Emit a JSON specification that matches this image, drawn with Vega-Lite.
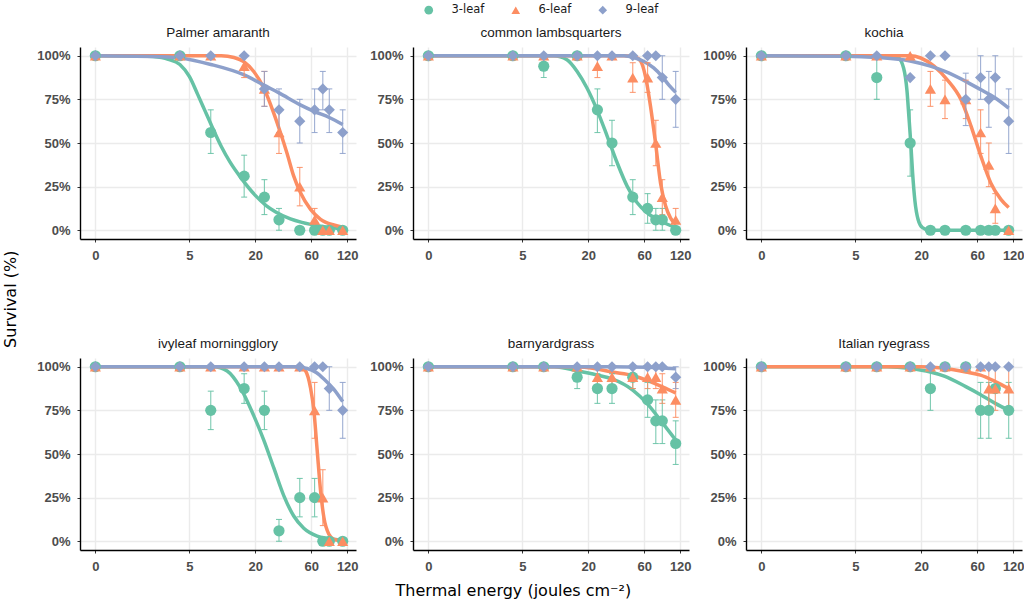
{
  "$schema": "https://vega.github.io/schema/vega-lite/v6.json",
  "description": "Survival of six weed species by leaf stage against thermal energy",
  "padding": {"left": 2, "top": 4, "right": 0, "bottom": 0},
  "background": "white",
  "title": {
    "text": "Thermal energy (joules cm⁻²)",
    "orient": "bottom",
    "anchor": "middle",
    "font": "DejaVu Sans",
    "fontSize": 16,
    "fontWeight": "normal",
    "color": "#000000",
    "offset": 10
  },
  "vconcat": [
    {
      "title": {
        "text": "Survival (%)",
        "orient": "left",
        "anchor": "middle",
        "font": "DejaVu Sans",
        "fontSize": 16,
        "fontWeight": "normal",
        "color": "#000000",
        "offset": 18
      },
      "data": {
        "values": [
          {"w": "Palmer amaranth", "s": "3-leaf", "x": 0, "y": 1},
          {"w": "Palmer amaranth", "s": "3-leaf", "x": 4, "y": 1},
          {"w": "Palmer amaranth", "s": "3-leaf", "x": 8, "y": 0.56, "lo": 0.44, "hi": 0.69},
          {"w": "Palmer amaranth", "s": "3-leaf", "x": 16, "y": 0.31, "lo": 0.19, "hi": 0.43},
          {"w": "Palmer amaranth", "s": "3-leaf", "x": 24, "y": 0.19, "lo": 0.09, "hi": 0.29},
          {"w": "Palmer amaranth", "s": "3-leaf", "x": 32, "y": 0.06, "lo": 0, "hi": 0.125},
          {"w": "Palmer amaranth", "s": "3-leaf", "x": 48, "y": 0},
          {"w": "Palmer amaranth", "s": "3-leaf", "x": 64, "y": 0},
          {"w": "Palmer amaranth", "s": "3-leaf", "x": 75, "y": 0},
          {"w": "Palmer amaranth", "s": "3-leaf", "x": 85, "y": 0},
          {"w": "Palmer amaranth", "s": "3-leaf", "x": 110, "y": 0},
          {"w": "Palmer amaranth", "s": "6-leaf", "x": 0, "y": 1},
          {"w": "Palmer amaranth", "s": "6-leaf", "x": 4, "y": 1},
          {"w": "Palmer amaranth", "s": "6-leaf", "x": 8, "y": 1},
          {"w": "Palmer amaranth", "s": "6-leaf", "x": 16, "y": 0.94, "lo": 0.875, "hi": 1},
          {"w": "Palmer amaranth", "s": "6-leaf", "x": 24, "y": 0.81, "lo": 0.71, "hi": 0.91},
          {"w": "Palmer amaranth", "s": "6-leaf", "x": 32, "y": 0.56, "lo": 0.44, "hi": 0.69},
          {"w": "Palmer amaranth", "s": "6-leaf", "x": 48, "y": 0.25, "lo": 0.14, "hi": 0.36},
          {"w": "Palmer amaranth", "s": "6-leaf", "x": 64, "y": 0.06, "lo": 0, "hi": 0.125},
          {"w": "Palmer amaranth", "s": "6-leaf", "x": 75, "y": 0},
          {"w": "Palmer amaranth", "s": "6-leaf", "x": 85, "y": 0},
          {"w": "Palmer amaranth", "s": "6-leaf", "x": 110, "y": 0},
          {"w": "Palmer amaranth", "s": "9-leaf", "x": 0, "y": 1},
          {"w": "Palmer amaranth", "s": "9-leaf", "x": 4, "y": 1},
          {"w": "Palmer amaranth", "s": "9-leaf", "x": 8, "y": 1},
          {"w": "Palmer amaranth", "s": "9-leaf", "x": 16, "y": 1},
          {"w": "Palmer amaranth", "s": "9-leaf", "x": 24, "y": 0.81, "lo": 0.71, "hi": 0.91},
          {"w": "Palmer amaranth", "s": "9-leaf", "x": 32, "y": 0.69, "lo": 0.56, "hi": 0.81},
          {"w": "Palmer amaranth", "s": "9-leaf", "x": 48, "y": 0.625, "lo": 0.5, "hi": 0.75},
          {"w": "Palmer amaranth", "s": "9-leaf", "x": 64, "y": 0.69, "lo": 0.56, "hi": 0.81},
          {"w": "Palmer amaranth", "s": "9-leaf", "x": 75, "y": 0.81, "lo": 0.69, "hi": 0.91},
          {"w": "Palmer amaranth", "s": "9-leaf", "x": 85, "y": 0.69, "lo": 0.56, "hi": 0.81},
          {"w": "Palmer amaranth", "s": "9-leaf", "x": 110, "y": 0.56, "lo": 0.44, "hi": 0.69},

          {"w": "common lambsquarters", "s": "3-leaf", "x": 0, "y": 1},
          {"w": "common lambsquarters", "s": "3-leaf", "x": 4, "y": 1},
          {"w": "common lambsquarters", "s": "3-leaf", "x": 8, "y": 0.94, "lo": 0.875, "hi": 1},
          {"w": "common lambsquarters", "s": "3-leaf", "x": 16, "y": 1},
          {"w": "common lambsquarters", "s": "3-leaf", "x": 24, "y": 0.69, "lo": 0.56, "hi": 0.81},
          {"w": "common lambsquarters", "s": "3-leaf", "x": 32, "y": 0.5, "lo": 0.37, "hi": 0.63},
          {"w": "common lambsquarters", "s": "3-leaf", "x": 48, "y": 0.19, "lo": 0.09, "hi": 0.29},
          {"w": "common lambsquarters", "s": "3-leaf", "x": 64, "y": 0.125, "lo": 0.04, "hi": 0.21},
          {"w": "common lambsquarters", "s": "3-leaf", "x": 75, "y": 0.06, "lo": 0, "hi": 0.125},
          {"w": "common lambsquarters", "s": "3-leaf", "x": 85, "y": 0.06, "lo": 0, "hi": 0.125},
          {"w": "common lambsquarters", "s": "3-leaf", "x": 110, "y": 0},
          {"w": "common lambsquarters", "s": "6-leaf", "x": 0, "y": 1},
          {"w": "common lambsquarters", "s": "6-leaf", "x": 4, "y": 1},
          {"w": "common lambsquarters", "s": "6-leaf", "x": 8, "y": 1},
          {"w": "common lambsquarters", "s": "6-leaf", "x": 16, "y": 1},
          {"w": "common lambsquarters", "s": "6-leaf", "x": 24, "y": 0.94, "lo": 0.875, "hi": 1},
          {"w": "common lambsquarters", "s": "6-leaf", "x": 32, "y": 1},
          {"w": "common lambsquarters", "s": "6-leaf", "x": 48, "y": 0.875, "lo": 0.79, "hi": 0.96},
          {"w": "common lambsquarters", "s": "6-leaf", "x": 64, "y": 0.875, "lo": 0.79, "hi": 0.96},
          {"w": "common lambsquarters", "s": "6-leaf", "x": 75, "y": 0.5, "lo": 0.37, "hi": 0.63},
          {"w": "common lambsquarters", "s": "6-leaf", "x": 85, "y": 0.19, "lo": 0.09, "hi": 0.29},
          {"w": "common lambsquarters", "s": "6-leaf", "x": 110, "y": 0.06, "lo": 0, "hi": 0.125},
          {"w": "common lambsquarters", "s": "9-leaf", "x": 0, "y": 1},
          {"w": "common lambsquarters", "s": "9-leaf", "x": 4, "y": 1},
          {"w": "common lambsquarters", "s": "9-leaf", "x": 8, "y": 1},
          {"w": "common lambsquarters", "s": "9-leaf", "x": 16, "y": 1},
          {"w": "common lambsquarters", "s": "9-leaf", "x": 24, "y": 1},
          {"w": "common lambsquarters", "s": "9-leaf", "x": 32, "y": 1},
          {"w": "common lambsquarters", "s": "9-leaf", "x": 48, "y": 1},
          {"w": "common lambsquarters", "s": "9-leaf", "x": 64, "y": 1},
          {"w": "common lambsquarters", "s": "9-leaf", "x": 75, "y": 1},
          {"w": "common lambsquarters", "s": "9-leaf", "x": 85, "y": 0.875, "lo": 0.75, "hi": 1},
          {"w": "common lambsquarters", "s": "9-leaf", "x": 110, "y": 0.75, "lo": 0.59, "hi": 0.91},

          {"w": "kochia", "s": "3-leaf", "x": 0, "y": 1},
          {"w": "kochia", "s": "3-leaf", "x": 4, "y": 1},
          {"w": "kochia", "s": "3-leaf", "x": 8, "y": 0.875, "lo": 0.75, "hi": 1},
          {"w": "kochia", "s": "3-leaf", "x": 16, "y": 0.5, "lo": 0.31, "hi": 0.69},
          {"w": "kochia", "s": "3-leaf", "x": 24, "y": 0},
          {"w": "kochia", "s": "3-leaf", "x": 32, "y": 0},
          {"w": "kochia", "s": "3-leaf", "x": 48, "y": 0},
          {"w": "kochia", "s": "3-leaf", "x": 64, "y": 0},
          {"w": "kochia", "s": "3-leaf", "x": 75, "y": 0},
          {"w": "kochia", "s": "3-leaf", "x": 85, "y": 0},
          {"w": "kochia", "s": "3-leaf", "x": 110, "y": 0},
          {"w": "kochia", "s": "6-leaf", "x": 0, "y": 1},
          {"w": "kochia", "s": "6-leaf", "x": 4, "y": 1},
          {"w": "kochia", "s": "6-leaf", "x": 8, "y": 1},
          {"w": "kochia", "s": "6-leaf", "x": 16, "y": 1},
          {"w": "kochia", "s": "6-leaf", "x": 24, "y": 0.81, "lo": 0.71, "hi": 0.91},
          {"w": "kochia", "s": "6-leaf", "x": 32, "y": 0.75, "lo": 0.64, "hi": 0.86},
          {"w": "kochia", "s": "6-leaf", "x": 48, "y": 0.75, "lo": 0.64, "hi": 0.86},
          {"w": "kochia", "s": "6-leaf", "x": 64, "y": 0.56, "lo": 0.44, "hi": 0.69},
          {"w": "kochia", "s": "6-leaf", "x": 75, "y": 0.375, "lo": 0.25, "hi": 0.5},
          {"w": "kochia", "s": "6-leaf", "x": 85, "y": 0.125, "lo": 0.04, "hi": 0.21},
          {"w": "kochia", "s": "6-leaf", "x": 110, "y": 0},
          {"w": "kochia", "s": "9-leaf", "x": 0, "y": 1},
          {"w": "kochia", "s": "9-leaf", "x": 4, "y": 1},
          {"w": "kochia", "s": "9-leaf", "x": 8, "y": 1},
          {"w": "kochia", "s": "9-leaf", "x": 16, "y": 0.875},
          {"w": "kochia", "s": "9-leaf", "x": 24, "y": 1},
          {"w": "kochia", "s": "9-leaf", "x": 32, "y": 1},
          {"w": "kochia", "s": "9-leaf", "x": 48, "y": 0.75, "lo": 0.6, "hi": 0.9},
          {"w": "kochia", "s": "9-leaf", "x": 64, "y": 0.875, "lo": 0.75, "hi": 1},
          {"w": "kochia", "s": "9-leaf", "x": 75, "y": 0.75, "lo": 0.59, "hi": 0.91},
          {"w": "kochia", "s": "9-leaf", "x": 85, "y": 0.875, "lo": 0.75, "hi": 1},
          {"w": "kochia", "s": "9-leaf", "x": 110, "y": 0.625, "lo": 0.44, "hi": 0.81},

          {"w": "ivyleaf morningglory", "s": "3-leaf", "x": 0, "y": 1},
          {"w": "ivyleaf morningglory", "s": "3-leaf", "x": 4, "y": 1},
          {"w": "ivyleaf morningglory", "s": "3-leaf", "x": 8, "y": 0.75, "lo": 0.64, "hi": 0.86},
          {"w": "ivyleaf morningglory", "s": "3-leaf", "x": 16, "y": 0.875, "lo": 0.79, "hi": 0.96},
          {"w": "ivyleaf morningglory", "s": "3-leaf", "x": 24, "y": 0.75, "lo": 0.64, "hi": 0.86},
          {"w": "ivyleaf morningglory", "s": "3-leaf", "x": 32, "y": 0.06, "lo": 0, "hi": 0.125},
          {"w": "ivyleaf morningglory", "s": "3-leaf", "x": 48, "y": 0.25, "lo": 0.14, "hi": 0.36},
          {"w": "ivyleaf morningglory", "s": "3-leaf", "x": 64, "y": 0.25, "lo": 0.14, "hi": 0.36},
          {"w": "ivyleaf morningglory", "s": "3-leaf", "x": 75, "y": 0},
          {"w": "ivyleaf morningglory", "s": "3-leaf", "x": 85, "y": 0},
          {"w": "ivyleaf morningglory", "s": "3-leaf", "x": 110, "y": 0},
          {"w": "ivyleaf morningglory", "s": "6-leaf", "x": 0, "y": 1},
          {"w": "ivyleaf morningglory", "s": "6-leaf", "x": 4, "y": 1},
          {"w": "ivyleaf morningglory", "s": "6-leaf", "x": 8, "y": 1},
          {"w": "ivyleaf morningglory", "s": "6-leaf", "x": 16, "y": 1},
          {"w": "ivyleaf morningglory", "s": "6-leaf", "x": 24, "y": 1},
          {"w": "ivyleaf morningglory", "s": "6-leaf", "x": 32, "y": 1},
          {"w": "ivyleaf morningglory", "s": "6-leaf", "x": 48, "y": 1},
          {"w": "ivyleaf morningglory", "s": "6-leaf", "x": 64, "y": 0.75, "lo": 0.59, "hi": 0.91},
          {"w": "ivyleaf morningglory", "s": "6-leaf", "x": 75, "y": 0.25, "lo": 0.09, "hi": 0.41},
          {"w": "ivyleaf morningglory", "s": "6-leaf", "x": 85, "y": 0},
          {"w": "ivyleaf morningglory", "s": "6-leaf", "x": 110, "y": 0},
          {"w": "ivyleaf morningglory", "s": "9-leaf", "x": 0, "y": 1},
          {"w": "ivyleaf morningglory", "s": "9-leaf", "x": 4, "y": 1},
          {"w": "ivyleaf morningglory", "s": "9-leaf", "x": 8, "y": 1},
          {"w": "ivyleaf morningglory", "s": "9-leaf", "x": 16, "y": 1},
          {"w": "ivyleaf morningglory", "s": "9-leaf", "x": 24, "y": 1},
          {"w": "ivyleaf morningglory", "s": "9-leaf", "x": 32, "y": 1},
          {"w": "ivyleaf morningglory", "s": "9-leaf", "x": 48, "y": 1},
          {"w": "ivyleaf morningglory", "s": "9-leaf", "x": 64, "y": 1},
          {"w": "ivyleaf morningglory", "s": "9-leaf", "x": 75, "y": 1},
          {"w": "ivyleaf morningglory", "s": "9-leaf", "x": 85, "y": 0.875, "lo": 0.75, "hi": 1},
          {"w": "ivyleaf morningglory", "s": "9-leaf", "x": 110, "y": 0.75, "lo": 0.59, "hi": 0.91},

          {"w": "barnyardgrass", "s": "3-leaf", "x": 0, "y": 1},
          {"w": "barnyardgrass", "s": "3-leaf", "x": 4, "y": 1},
          {"w": "barnyardgrass", "s": "3-leaf", "x": 8, "y": 1},
          {"w": "barnyardgrass", "s": "3-leaf", "x": 16, "y": 0.94, "lo": 0.875, "hi": 1},
          {"w": "barnyardgrass", "s": "3-leaf", "x": 24, "y": 0.875, "lo": 0.79, "hi": 0.96},
          {"w": "barnyardgrass", "s": "3-leaf", "x": 32, "y": 0.875, "lo": 0.79, "hi": 0.96},
          {"w": "barnyardgrass", "s": "3-leaf", "x": 48, "y": 0.94, "lo": 0.875, "hi": 1},
          {"w": "barnyardgrass", "s": "3-leaf", "x": 64, "y": 0.81, "lo": 0.71, "hi": 0.91},
          {"w": "barnyardgrass", "s": "3-leaf", "x": 75, "y": 0.69, "lo": 0.56, "hi": 0.81},
          {"w": "barnyardgrass", "s": "3-leaf", "x": 85, "y": 0.69, "lo": 0.56, "hi": 0.81},
          {"w": "barnyardgrass", "s": "3-leaf", "x": 110, "y": 0.56, "lo": 0.44, "hi": 0.69},
          {"w": "barnyardgrass", "s": "6-leaf", "x": 0, "y": 1},
          {"w": "barnyardgrass", "s": "6-leaf", "x": 4, "y": 1},
          {"w": "barnyardgrass", "s": "6-leaf", "x": 8, "y": 1},
          {"w": "barnyardgrass", "s": "6-leaf", "x": 16, "y": 1},
          {"w": "barnyardgrass", "s": "6-leaf", "x": 24, "y": 0.94, "lo": 0.875, "hi": 1},
          {"w": "barnyardgrass", "s": "6-leaf", "x": 32, "y": 0.94, "lo": 0.875, "hi": 1},
          {"w": "barnyardgrass", "s": "6-leaf", "x": 48, "y": 0.94, "lo": 0.875, "hi": 1},
          {"w": "barnyardgrass", "s": "6-leaf", "x": 64, "y": 0.94, "lo": 0.875, "hi": 1},
          {"w": "barnyardgrass", "s": "6-leaf", "x": 75, "y": 0.94, "lo": 0.875, "hi": 1},
          {"w": "barnyardgrass", "s": "6-leaf", "x": 85, "y": 0.875, "lo": 0.79, "hi": 0.96},
          {"w": "barnyardgrass", "s": "6-leaf", "x": 110, "y": 0.81, "lo": 0.71, "hi": 0.91},
          {"w": "barnyardgrass", "s": "9-leaf", "x": 0, "y": 1},
          {"w": "barnyardgrass", "s": "9-leaf", "x": 4, "y": 1},
          {"w": "barnyardgrass", "s": "9-leaf", "x": 8, "y": 1},
          {"w": "barnyardgrass", "s": "9-leaf", "x": 16, "y": 1},
          {"w": "barnyardgrass", "s": "9-leaf", "x": 24, "y": 1},
          {"w": "barnyardgrass", "s": "9-leaf", "x": 32, "y": 1},
          {"w": "barnyardgrass", "s": "9-leaf", "x": 48, "y": 1},
          {"w": "barnyardgrass", "s": "9-leaf", "x": 64, "y": 1},
          {"w": "barnyardgrass", "s": "9-leaf", "x": 75, "y": 1},
          {"w": "barnyardgrass", "s": "9-leaf", "x": 85, "y": 1},
          {"w": "barnyardgrass", "s": "9-leaf", "x": 110, "y": 0.94, "lo": 0.875, "hi": 1},

          {"w": "Italian ryegrass", "s": "3-leaf", "x": 0, "y": 1},
          {"w": "Italian ryegrass", "s": "3-leaf", "x": 4, "y": 1},
          {"w": "Italian ryegrass", "s": "3-leaf", "x": 8, "y": 1},
          {"w": "Italian ryegrass", "s": "3-leaf", "x": 16, "y": 1},
          {"w": "Italian ryegrass", "s": "3-leaf", "x": 24, "y": 0.875, "lo": 0.75, "hi": 1},
          {"w": "Italian ryegrass", "s": "3-leaf", "x": 32, "y": 1},
          {"w": "Italian ryegrass", "s": "3-leaf", "x": 48, "y": 1},
          {"w": "Italian ryegrass", "s": "3-leaf", "x": 64, "y": 0.75, "lo": 0.59, "hi": 0.91},
          {"w": "Italian ryegrass", "s": "3-leaf", "x": 75, "y": 0.75, "lo": 0.59, "hi": 0.91},
          {"w": "Italian ryegrass", "s": "3-leaf", "x": 85, "y": 0.875},
          {"w": "Italian ryegrass", "s": "3-leaf", "x": 110, "y": 0.75, "lo": 0.59, "hi": 0.91},
          {"w": "Italian ryegrass", "s": "6-leaf", "x": 0, "y": 1},
          {"w": "Italian ryegrass", "s": "6-leaf", "x": 4, "y": 1},
          {"w": "Italian ryegrass", "s": "6-leaf", "x": 8, "y": 1},
          {"w": "Italian ryegrass", "s": "6-leaf", "x": 16, "y": 1},
          {"w": "Italian ryegrass", "s": "6-leaf", "x": 24, "y": 1},
          {"w": "Italian ryegrass", "s": "6-leaf", "x": 32, "y": 1},
          {"w": "Italian ryegrass", "s": "6-leaf", "x": 48, "y": 1},
          {"w": "Italian ryegrass", "s": "6-leaf", "x": 64, "y": 1},
          {"w": "Italian ryegrass", "s": "6-leaf", "x": 75, "y": 0.875, "lo": 0.75, "hi": 1},
          {"w": "Italian ryegrass", "s": "6-leaf", "x": 85, "y": 0.875, "lo": 0.75, "hi": 1},
          {"w": "Italian ryegrass", "s": "6-leaf", "x": 110, "y": 0.875, "lo": 0.75, "hi": 1},
          {"w": "Italian ryegrass", "s": "9-leaf", "x": 0, "y": 1},
          {"w": "Italian ryegrass", "s": "9-leaf", "x": 4, "y": 1},
          {"w": "Italian ryegrass", "s": "9-leaf", "x": 8, "y": 1},
          {"w": "Italian ryegrass", "s": "9-leaf", "x": 16, "y": 1},
          {"w": "Italian ryegrass", "s": "9-leaf", "x": 24, "y": 1},
          {"w": "Italian ryegrass", "s": "9-leaf", "x": 32, "y": 1},
          {"w": "Italian ryegrass", "s": "9-leaf", "x": 48, "y": 1},
          {"w": "Italian ryegrass", "s": "9-leaf", "x": 64, "y": 1},
          {"w": "Italian ryegrass", "s": "9-leaf", "x": 75, "y": 1},
          {"w": "Italian ryegrass", "s": "9-leaf", "x": 85, "y": 1},
          {"w": "Italian ryegrass", "s": "9-leaf", "x": 110, "y": 1},

          {"w": "Palmer amaranth", "s": "3-leaf", "x": 0, "f": 1},
          {"w": "Palmer amaranth", "s": "3-leaf", "x": 1, "f": 1},
          {"w": "Palmer amaranth", "s": "3-leaf", "x": 2, "f": 0.995},
          {"w": "Palmer amaranth", "s": "3-leaf", "x": 3, "f": 0.98},
          {"w": "Palmer amaranth", "s": "3-leaf", "x": 4, "f": 0.95},
          {"w": "Palmer amaranth", "s": "3-leaf", "x": 5, "f": 0.88},
          {"w": "Palmer amaranth", "s": "3-leaf", "x": 6, "f": 0.78},
          {"w": "Palmer amaranth", "s": "3-leaf", "x": 7, "f": 0.69},
          {"w": "Palmer amaranth", "s": "3-leaf", "x": 8, "f": 0.61},
          {"w": "Palmer amaranth", "s": "3-leaf", "x": 10, "f": 0.48},
          {"w": "Palmer amaranth", "s": "3-leaf", "x": 12, "f": 0.39},
          {"w": "Palmer amaranth", "s": "3-leaf", "x": 15, "f": 0.3},
          {"w": "Palmer amaranth", "s": "3-leaf", "x": 20, "f": 0.2},
          {"w": "Palmer amaranth", "s": "3-leaf", "x": 25, "f": 0.14},
          {"w": "Palmer amaranth", "s": "3-leaf", "x": 30, "f": 0.105},
          {"w": "Palmer amaranth", "s": "3-leaf", "x": 40, "f": 0.065},
          {"w": "Palmer amaranth", "s": "3-leaf", "x": 50, "f": 0.045},
          {"w": "Palmer amaranth", "s": "3-leaf", "x": 70, "f": 0.025},
          {"w": "Palmer amaranth", "s": "3-leaf", "x": 90, "f": 0.015},
          {"w": "Palmer amaranth", "s": "3-leaf", "x": 110, "f": 0.01},
          {"w": "Palmer amaranth", "s": "6-leaf", "x": 0, "f": 1},
          {"w": "Palmer amaranth", "s": "6-leaf", "x": 10, "f": 1},
          {"w": "Palmer amaranth", "s": "6-leaf", "x": 13, "f": 0.99},
          {"w": "Palmer amaranth", "s": "6-leaf", "x": 16, "f": 0.965},
          {"w": "Palmer amaranth", "s": "6-leaf", "x": 19.4, "f": 0.91},
          {"w": "Palmer amaranth", "s": "6-leaf", "x": 23.7, "f": 0.815},
          {"w": "Palmer amaranth", "s": "6-leaf", "x": 28.9, "f": 0.67},
          {"w": "Palmer amaranth", "s": "6-leaf", "x": 32.9, "f": 0.56},
          {"w": "Palmer amaranth", "s": "6-leaf", "x": 37.5, "f": 0.44},
          {"w": "Palmer amaranth", "s": "6-leaf", "x": 42.7, "f": 0.31},
          {"w": "Palmer amaranth", "s": "6-leaf", "x": 48.7, "f": 0.215},
          {"w": "Palmer amaranth", "s": "6-leaf", "x": 59.2, "f": 0.12},
          {"w": "Palmer amaranth", "s": "6-leaf", "x": 71.8, "f": 0.063},
          {"w": "Palmer amaranth", "s": "6-leaf", "x": 92.9, "f": 0.03},
          {"w": "Palmer amaranth", "s": "6-leaf", "x": 110, "f": 0.018},
          {"w": "Palmer amaranth", "s": "9-leaf", "x": 0, "f": 1},
          {"w": "Palmer amaranth", "s": "9-leaf", "x": 2, "f": 0.996},
          {"w": "Palmer amaranth", "s": "9-leaf", "x": 4, "f": 0.987},
          {"w": "Palmer amaranth", "s": "9-leaf", "x": 8, "f": 0.95},
          {"w": "Palmer amaranth", "s": "9-leaf", "x": 16, "f": 0.89},
          {"w": "Palmer amaranth", "s": "9-leaf", "x": 24, "f": 0.83},
          {"w": "Palmer amaranth", "s": "9-leaf", "x": 32, "f": 0.787},
          {"w": "Palmer amaranth", "s": "9-leaf", "x": 48, "f": 0.72},
          {"w": "Palmer amaranth", "s": "9-leaf", "x": 64, "f": 0.68},
          {"w": "Palmer amaranth", "s": "9-leaf", "x": 85, "f": 0.646},
          {"w": "Palmer amaranth", "s": "9-leaf", "x": 110, "f": 0.606},

          {"w": "common lambsquarters", "s": "3-leaf", "x": 0, "f": 1},
          {"w": "common lambsquarters", "s": "3-leaf", "x": 9.9, "f": 1},
          {"w": "common lambsquarters", "s": "3-leaf", "x": 13, "f": 0.977},
          {"w": "common lambsquarters", "s": "3-leaf", "x": 16, "f": 0.91},
          {"w": "common lambsquarters", "s": "3-leaf", "x": 19.5, "f": 0.815},
          {"w": "common lambsquarters", "s": "3-leaf", "x": 23.8, "f": 0.69},
          {"w": "common lambsquarters", "s": "3-leaf", "x": 29.1, "f": 0.54},
          {"w": "common lambsquarters", "s": "3-leaf", "x": 35.4, "f": 0.387},
          {"w": "common lambsquarters", "s": "3-leaf", "x": 43, "f": 0.253},
          {"w": "common lambsquarters", "s": "3-leaf", "x": 52.3, "f": 0.158},
          {"w": "common lambsquarters", "s": "3-leaf", "x": 63.5, "f": 0.1},
          {"w": "common lambsquarters", "s": "3-leaf", "x": 82.2, "f": 0.053},
          {"w": "common lambsquarters", "s": "3-leaf", "x": 110, "f": 0.015},
          {"w": "common lambsquarters", "s": "6-leaf", "x": 0, "f": 1},
          {"w": "common lambsquarters", "s": "6-leaf", "x": 40, "f": 1},
          {"w": "common lambsquarters", "s": "6-leaf", "x": 49, "f": 0.995},
          {"w": "common lambsquarters", "s": "6-leaf", "x": 55.8, "f": 0.97},
          {"w": "common lambsquarters", "s": "6-leaf", "x": 61.5, "f": 0.88},
          {"w": "common lambsquarters", "s": "6-leaf", "x": 67.7, "f": 0.71},
          {"w": "common lambsquarters", "s": "6-leaf", "x": 74.6, "f": 0.5},
          {"w": "common lambsquarters", "s": "6-leaf", "x": 82.2, "f": 0.27},
          {"w": "common lambsquarters", "s": "6-leaf", "x": 90.5, "f": 0.14},
          {"w": "common lambsquarters", "s": "6-leaf", "x": 99.7, "f": 0.07},
          {"w": "common lambsquarters", "s": "6-leaf", "x": 110, "f": 0.035},
          {"w": "common lambsquarters", "s": "9-leaf", "x": 0, "f": 1},
          {"w": "common lambsquarters", "s": "9-leaf", "x": 40.5, "f": 1},
          {"w": "common lambsquarters", "s": "9-leaf", "x": 49, "f": 0.99},
          {"w": "common lambsquarters", "s": "9-leaf", "x": 59.6, "f": 0.967},
          {"w": "common lambsquarters", "s": "9-leaf", "x": 72, "f": 0.93},
          {"w": "common lambsquarters", "s": "9-leaf", "x": 85, "f": 0.88},
          {"w": "common lambsquarters", "s": "9-leaf", "x": 97, "f": 0.83},
          {"w": "common lambsquarters", "s": "9-leaf", "x": 110, "f": 0.79},

          {"w": "kochia", "s": "3-leaf", "x": 0, "f": 1},
          {"w": "kochia", "s": "3-leaf", "x": 11, "f": 1},
          {"w": "kochia", "s": "3-leaf", "x": 12.5, "f": 0.99},
          {"w": "kochia", "s": "3-leaf", "x": 14, "f": 0.93},
          {"w": "kochia", "s": "3-leaf", "x": 15, "f": 0.8},
          {"w": "kochia", "s": "3-leaf", "x": 15.6, "f": 0.65},
          {"w": "kochia", "s": "3-leaf", "x": 16.2, "f": 0.5},
          {"w": "kochia", "s": "3-leaf", "x": 16.8, "f": 0.33},
          {"w": "kochia", "s": "3-leaf", "x": 17.6, "f": 0.17},
          {"w": "kochia", "s": "3-leaf", "x": 18.8, "f": 0.06},
          {"w": "kochia", "s": "3-leaf", "x": 20.5, "f": 0.015},
          {"w": "kochia", "s": "3-leaf", "x": 23, "f": 0.003},
          {"w": "kochia", "s": "3-leaf", "x": 30, "f": 0},
          {"w": "kochia", "s": "3-leaf", "x": 110, "f": 0},
          {"w": "kochia", "s": "6-leaf", "x": 0, "f": 1},
          {"w": "kochia", "s": "6-leaf", "x": 16, "f": 1},
          {"w": "kochia", "s": "6-leaf", "x": 19.8, "f": 0.987},
          {"w": "kochia", "s": "6-leaf", "x": 25.8, "f": 0.94},
          {"w": "kochia", "s": "6-leaf", "x": 33.6, "f": 0.86},
          {"w": "kochia", "s": "6-leaf", "x": 43.6, "f": 0.75},
          {"w": "kochia", "s": "6-leaf", "x": 53, "f": 0.6},
          {"w": "kochia", "s": "6-leaf", "x": 64.3, "f": 0.425},
          {"w": "kochia", "s": "6-leaf", "x": 78.1, "f": 0.27},
          {"w": "kochia", "s": "6-leaf", "x": 94.7, "f": 0.177},
          {"w": "kochia", "s": "6-leaf", "x": 110, "f": 0.13},
          {"w": "kochia", "s": "9-leaf", "x": 0, "f": 1},
          {"w": "kochia", "s": "9-leaf", "x": 4, "f": 0.997},
          {"w": "kochia", "s": "9-leaf", "x": 8, "f": 0.99},
          {"w": "kochia", "s": "9-leaf", "x": 16, "f": 0.97},
          {"w": "kochia", "s": "9-leaf", "x": 24, "f": 0.94},
          {"w": "kochia", "s": "9-leaf", "x": 32, "f": 0.91},
          {"w": "kochia", "s": "9-leaf", "x": 48, "f": 0.853},
          {"w": "kochia", "s": "9-leaf", "x": 64, "f": 0.806},
          {"w": "kochia", "s": "9-leaf", "x": 85, "f": 0.758},
          {"w": "kochia", "s": "9-leaf", "x": 110, "f": 0.7},

          {"w": "ivyleaf morningglory", "s": "3-leaf", "x": 0, "f": 1},
          {"w": "ivyleaf morningglory", "s": "3-leaf", "x": 8.5, "f": 1},
          {"w": "ivyleaf morningglory", "s": "3-leaf", "x": 11.3, "f": 0.975},
          {"w": "ivyleaf morningglory", "s": "3-leaf", "x": 14.8, "f": 0.88},
          {"w": "ivyleaf morningglory", "s": "3-leaf", "x": 19.4, "f": 0.72},
          {"w": "ivyleaf morningglory", "s": "3-leaf", "x": 23.7, "f": 0.58},
          {"w": "ivyleaf morningglory", "s": "3-leaf", "x": 28.9, "f": 0.42},
          {"w": "ivyleaf morningglory", "s": "3-leaf", "x": 35.2, "f": 0.26},
          {"w": "ivyleaf morningglory", "s": "3-leaf", "x": 42.7, "f": 0.145},
          {"w": "ivyleaf morningglory", "s": "3-leaf", "x": 51.9, "f": 0.075},
          {"w": "ivyleaf morningglory", "s": "3-leaf", "x": 67.3, "f": 0.03},
          {"w": "ivyleaf morningglory", "s": "3-leaf", "x": 92.9, "f": 0.012},
          {"w": "ivyleaf morningglory", "s": "3-leaf", "x": 110, "f": 0.006},
          {"w": "ivyleaf morningglory", "s": "6-leaf", "x": 0, "f": 1},
          {"w": "ivyleaf morningglory", "s": "6-leaf", "x": 48.7, "f": 1},
          {"w": "ivyleaf morningglory", "s": "6-leaf", "x": 53.7, "f": 0.977},
          {"w": "ivyleaf morningglory", "s": "6-leaf", "x": 59.1, "f": 0.88},
          {"w": "ivyleaf morningglory", "s": "6-leaf", "x": 63.1, "f": 0.75},
          {"w": "ivyleaf morningglory", "s": "6-leaf", "x": 67.3, "f": 0.52},
          {"w": "ivyleaf morningglory", "s": "6-leaf", "x": 71.8, "f": 0.29},
          {"w": "ivyleaf morningglory", "s": "6-leaf", "x": 76.6, "f": 0.136},
          {"w": "ivyleaf morningglory", "s": "6-leaf", "x": 84.4, "f": 0.04},
          {"w": "ivyleaf morningglory", "s": "6-leaf", "x": 93, "f": 0.011},
          {"w": "ivyleaf morningglory", "s": "6-leaf", "x": 110, "f": 0.002},
          {"w": "ivyleaf morningglory", "s": "9-leaf", "x": 0, "f": 1},
          {"w": "ivyleaf morningglory", "s": "9-leaf", "x": 42.7, "f": 1},
          {"w": "ivyleaf morningglory", "s": "9-leaf", "x": 55.4, "f": 0.99},
          {"w": "ivyleaf morningglory", "s": "9-leaf", "x": 66, "f": 0.967},
          {"w": "ivyleaf morningglory", "s": "9-leaf", "x": 76.6, "f": 0.93},
          {"w": "ivyleaf morningglory", "s": "9-leaf", "x": 92.9, "f": 0.87},
          {"w": "ivyleaf morningglory", "s": "9-leaf", "x": 110, "f": 0.8},

          {"w": "barnyardgrass", "s": "3-leaf", "x": 0, "f": 1},
          {"w": "barnyardgrass", "s": "3-leaf", "x": 10, "f": 1},
          {"w": "barnyardgrass", "s": "3-leaf", "x": 16, "f": 0.977},
          {"w": "barnyardgrass", "s": "3-leaf", "x": 24, "f": 0.952},
          {"w": "barnyardgrass", "s": "3-leaf", "x": 32, "f": 0.93},
          {"w": "barnyardgrass", "s": "3-leaf", "x": 48, "f": 0.866},
          {"w": "barnyardgrass", "s": "3-leaf", "x": 64, "f": 0.786},
          {"w": "barnyardgrass", "s": "3-leaf", "x": 85, "f": 0.68},
          {"w": "barnyardgrass", "s": "3-leaf", "x": 110, "f": 0.58},
          {"w": "barnyardgrass", "s": "6-leaf", "x": 0, "f": 1},
          {"w": "barnyardgrass", "s": "6-leaf", "x": 15, "f": 1},
          {"w": "barnyardgrass", "s": "6-leaf", "x": 24, "f": 0.987},
          {"w": "barnyardgrass", "s": "6-leaf", "x": 32, "f": 0.97},
          {"w": "barnyardgrass", "s": "6-leaf", "x": 48, "f": 0.95},
          {"w": "barnyardgrass", "s": "6-leaf", "x": 64, "f": 0.92},
          {"w": "barnyardgrass", "s": "6-leaf", "x": 85, "f": 0.885},
          {"w": "barnyardgrass", "s": "6-leaf", "x": 110, "f": 0.85},
          {"w": "barnyardgrass", "s": "9-leaf", "x": 0, "f": 1},
          {"w": "barnyardgrass", "s": "9-leaf", "x": 32, "f": 1},
          {"w": "barnyardgrass", "s": "9-leaf", "x": 64, "f": 0.997},
          {"w": "barnyardgrass", "s": "9-leaf", "x": 85, "f": 0.993},
          {"w": "barnyardgrass", "s": "9-leaf", "x": 110, "f": 0.988},

          {"w": "Italian ryegrass", "s": "3-leaf", "x": 0, "f": 1},
          {"w": "Italian ryegrass", "s": "3-leaf", "x": 10, "f": 1},
          {"w": "Italian ryegrass", "s": "3-leaf", "x": 16, "f": 0.99},
          {"w": "Italian ryegrass", "s": "3-leaf", "x": 24, "f": 0.97},
          {"w": "Italian ryegrass", "s": "3-leaf", "x": 32, "f": 0.945},
          {"w": "Italian ryegrass", "s": "3-leaf", "x": 48, "f": 0.886},
          {"w": "Italian ryegrass", "s": "3-leaf", "x": 64, "f": 0.84},
          {"w": "Italian ryegrass", "s": "3-leaf", "x": 85, "f": 0.79},
          {"w": "Italian ryegrass", "s": "3-leaf", "x": 110, "f": 0.75},
          {"w": "Italian ryegrass", "s": "6-leaf", "x": 0, "f": 1},
          {"w": "Italian ryegrass", "s": "6-leaf", "x": 20, "f": 1},
          {"w": "Italian ryegrass", "s": "6-leaf", "x": 24, "f": 0.997},
          {"w": "Italian ryegrass", "s": "6-leaf", "x": 32, "f": 0.99},
          {"w": "Italian ryegrass", "s": "6-leaf", "x": 48, "f": 0.97},
          {"w": "Italian ryegrass", "s": "6-leaf", "x": 64, "f": 0.952},
          {"w": "Italian ryegrass", "s": "6-leaf", "x": 85, "f": 0.915},
          {"w": "Italian ryegrass", "s": "6-leaf", "x": 110, "f": 0.875}
        ]
      },
      "columns": 3,
      "spacing": {"row": 74, "column": 10},
      "facet": {
        "field": "w",
        "type": "nominal",
        "sort": ["Palmer amaranth", "common lambsquarters", "kochia", "ivyleaf morningglory", "barnyardgrass", "Italian ryegrass"],
        "header": {"title": null}
      },
      "spec": {
        "width": 276,
        "height": 192,
        "layer": [
          {
            "transform": [{"filter": "datum.f != null"}],
            "mark": {"type": "line", "strokeWidth": 3.5, "interpolate": "monotone"},
            "encoding": {
              "x": {"field": "x", "type": "quantitative"},
              "y": {"field": "f", "type": "quantitative"},
              "color": {"field": "s", "type": "nominal", "legend": null}
            }
          },
          {
            "transform": [{"filter": "datum.lo != null"}],
            "mark": {"type": "errorbar", "ticks": {"size": 6}, "thickness": 1.1, "opacity": 0.85},
            "encoding": {
              "x": {"field": "x", "type": "quantitative"},
              "y": {"field": "lo", "type": "quantitative"},
              "y2": {"field": "hi"},
              "color": {"field": "s", "type": "nominal", "legend": null}
            }
          },
          {
            "transform": [{"filter": "datum.y != null"}],
            "mark": {"type": "point", "filled": true, "opacity": 1, "size": 125, "strokeWidth": 0},
            "encoding": {
              "x": {"field": "x", "type": "quantitative"},
              "y": {"field": "y", "type": "quantitative"},
              "fill": {
                "field": "s",
                "type": "nominal",
                "scale": {"domain": ["3-leaf", "6-leaf", "9-leaf"], "range": ["#66c2a5", "#fc8d62", "#8da0cb"]}
              },
              "shape": {
                "field": "s",
                "type": "nominal",
                "scale": {"domain": ["3-leaf", "6-leaf", "9-leaf"], "range": ["circle", "triangle-up", "diamond"]}
              }
            }
          }
        ],
        "encoding": {
          "x": {
            "field": "x",
            "type": "quantitative",
            "title": null,
            "scale": {"type": "symlog", "constant": 1, "domain": [-0.34, 142], "nice": false, "zero": false},
            "axis": {"values": [0, 5, 20, 60, 120], "format": "d"}
          },
          "y": {
            "type": "quantitative",
            "title": null,
            "scale": {"domain": [-0.05, 1.05], "nice": false},
            "axis": {"values": [0, 0.25, 0.5, 0.75, 1], "format": ".0%"}
          }
        }
      },
      "resolve": {"axis": {"x": "independent", "y": "independent"}}
    }
  ],
  "resolve": {"scale": {"color": "shared", "fill": "shared", "shape": "shared"}},
  "config": {
    "font": "Liberation Sans",
    "view": {"stroke": null},
    "axis": {
      "domainColor": "#000000",
      "domainWidth": 1.4,
      "gridColor": "#ebebeb",
      "gridWidth": 1.4,
      "tickColor": "#333333",
      "tickSize": 3,
      "tickWidth": 1,
      "labelFont": "Liberation Sans",
      "labelFontSize": 13,
      "labelFontWeight": "bold",
      "labelColor": "#4d4d4d",
      "labelPadding": 7,
      "labelFlush": false,
      "labelOverlap": false
    },
    "header": {
      "labelFont": "Liberation Sans",
      "labelFontSize": 13.5,
      "labelColor": "#1a1a1a",
      "labelPadding": 8
    },
    "range": {
      "category": ["#66c2a5", "#fc8d62", "#8da0cb"]
    },
    "legend": {
      "orient": "none",
      "direction": "horizontal",
      "legendX": 343,
      "legendY": -43,
      "title": null,
      "labelFont": "DejaVu Sans",
      "labelFontSize": 11.5,
      "labelFontWeight": "normal",
      "labelColor": "#1a1a1a",
      "symbolSize": 75,
      "symbolStrokeWidth": 0,
      "labelOffset": 17,
      "columnPadding": 25
    }
  }
}
